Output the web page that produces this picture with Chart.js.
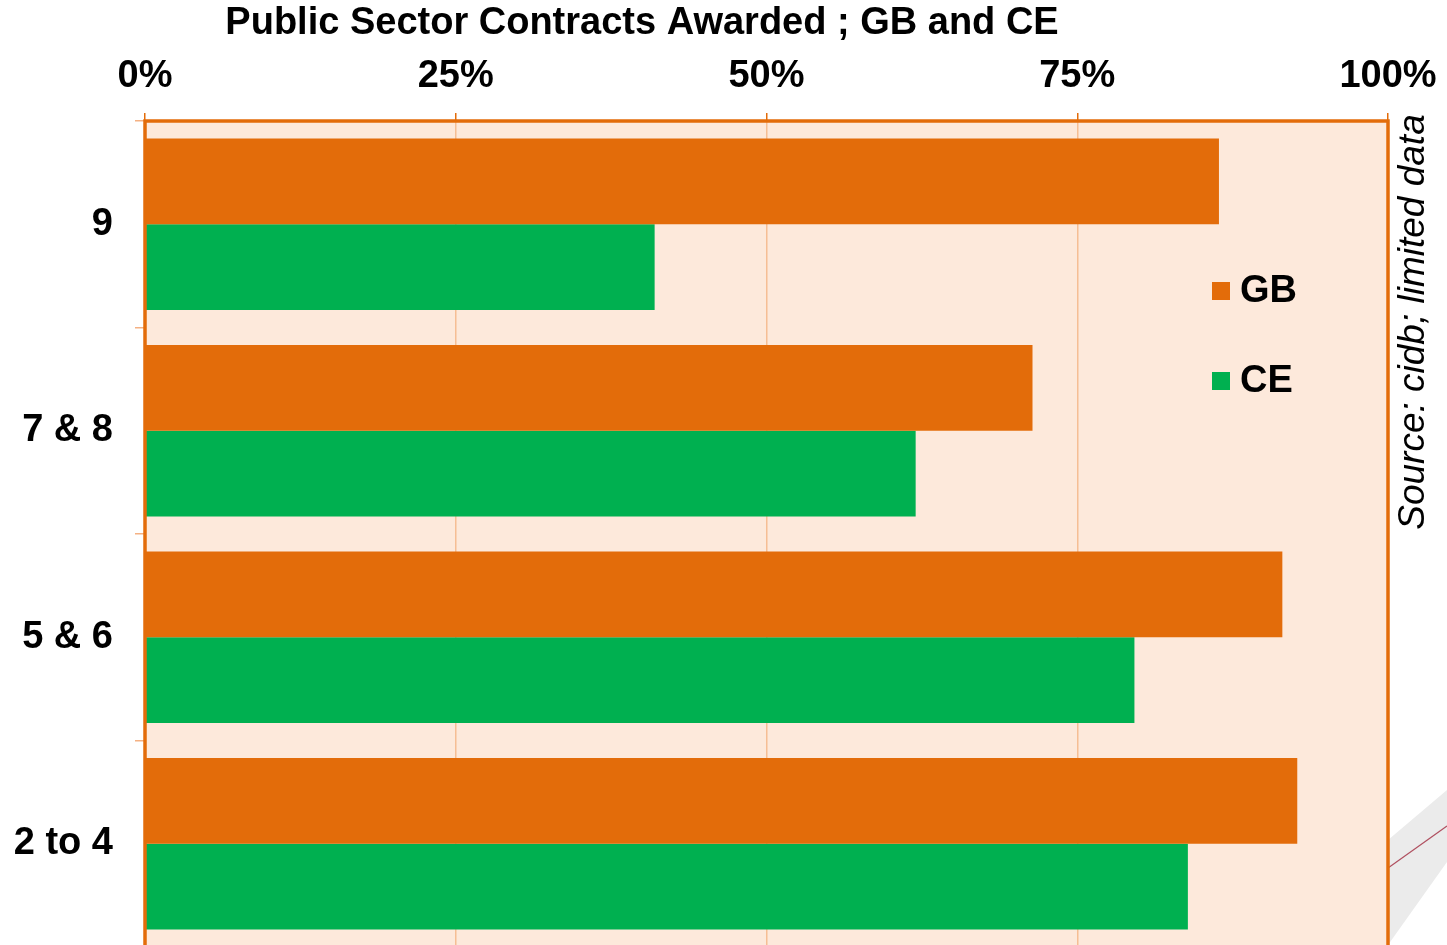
<!DOCTYPE html>
<html>
<head>
<meta charset="utf-8">
<script src="https://cdn.jsdelivr.net/npm/chart.js@4.4.1/dist/chart.umd.min.js"></script>
<style>
    html, body { margin: 0; padding: 0; background: #fff; overflow: hidden; }
</style>
</head>
<body>
<canvas id="grafico" width="1447" height="960"></canvas>
<script>
// dados
const grades = ['9', '7 & 8', '5 & 6', '2 to 4'];
const gbValues = [86.4, 71.4, 91.5, 92.7];
const ceValues = [41.0, 62.0, 79.6, 83.9];
const tickValues = [0, 25, 50, 75, 100];

const ORANGE = '#E36C0A';
const GREEN = '#00B050';
const FONT = '"Liberation Sans", Arial, sans-serif';

// fundo, moldura, título, legenda e fonte
const decor = {
    id: 'decor',
    beforeDraw(chart) {
        const { ctx, chartArea: a } = chart;
        ctx.save();
        // faixa cinza no canto inferior direito
        ctx.fillStyle = '#ebebeb';
        ctx.beginPath();
        ctx.moveTo(a.right, 840);
        ctx.lineTo(1447, 790);
        ctx.lineTo(1447, 862);
        ctx.lineTo(a.right, 945);
        ctx.closePath();
        ctx.fill();
        ctx.strokeStyle = '#b05060';
        ctx.lineWidth = 1.2;
        ctx.beginPath();
        ctx.moveTo(a.right, 868);
        ctx.lineTo(1447, 826);
        ctx.stroke();
        ctx.fillStyle = '#FDE9DB';
        ctx.fillRect(a.left, a.top, a.right - a.left, a.bottom - a.top);
        ctx.restore();
    },
    afterDraw(chart) {
        const { ctx, chartArea: a } = chart;
        ctx.save();
        ctx.strokeStyle = ORANGE;
        ctx.lineWidth = 3.5;
        ctx.strokeRect(a.left, a.top, a.right - a.left, a.bottom - a.top);

        ctx.fillStyle = '#000';
        ctx.font = 'bold 38px ' + FONT;
        ctx.textAlign = 'center';
        ctx.textBaseline = 'middle';
        ctx.fillText('Public Sector Contracts Awarded ; GB and CE', 642, 24);

        // legenda
        ctx.textAlign = 'left';
        ctx.font = 'bold 38px ' + FONT;
        chart.data.datasets.forEach((ds, i) => {
            const y = 291 + i * 90;
            ctx.fillStyle = ds.backgroundColor;
            ctx.fillRect(1212, y - 9, 18, 18);
            ctx.fillStyle = '#000';
            ctx.fillText(ds.label, 1240, y + 1);
        });

        // fonte
        ctx.translate(1414, 322);
        ctx.rotate(-Math.PI / 2);
        ctx.textAlign = 'center';
        ctx.font = 'italic 37px ' + FONT;
        ctx.fillText('Source: cidb; limited data', 0, 0);
        ctx.restore();
    }
};

new Chart(document.getElementById('grafico').getContext('2d'), {
    type: 'bar',
    data: {
        labels: grades,
        datasets: [
            { label: 'GB', data: gbValues, backgroundColor: ORANGE, borderWidth: 0 },
            { label: 'CE', data: ceValues, backgroundColor: GREEN, borderWidth: 0 }
        ]
    },
    options: {
        indexAxis: 'y',
        responsive: false,
        animation: false,
        categoryPercentage: 0.83,
        barPercentage: 1.0,
        layout: { padding: { left: 0, top: 0, right: 59, bottom: 13 } },
        plugins: {
            legend: { display: false },
            tooltip: { enabled: false }
        },
        scales: {
            x: {
                position: 'top',
                min: 0,
                max: 100,
                afterBuildTicks: (scale) => {
                    scale.ticks = tickValues.map(v => ({ value: v }));
                },
                afterFit: (scale) => {
                    scale.height = 121;
                    scale.paddingLeft = 0;
                    scale.paddingRight = 0;
                },
                ticks: {
                    color: '#000',
                    font: { family: FONT, size: 38, weight: 'bold' },
                    padding: 14,
                    callback: (v) => v + '%'
                },
                grid: {
                    color: '#F6BE94',
                    lineWidth: 1.5,
                    tickLength: 8,
                    tickColor: ORANGE
                },
                border: { display: false }
            },
            y: {
                afterFit: (scale) => {
                    scale.width = 145;
                    scale.paddingTop = 0;
                    scale.paddingBottom = 0;
                },
                ticks: {
                    color: '#000',
                    font: { family: FONT, size: 38, weight: 'bold' },
                    padding: 22
                },
                grid: {
                    drawOnChartArea: false,
                    color: '#F4B183',
                    lineWidth: 1.5,
                    tickLength: 10
                },
                border: { display: false }
            }
        }
    },
    plugins: [decor]
});
</script>
</body>
</html>
